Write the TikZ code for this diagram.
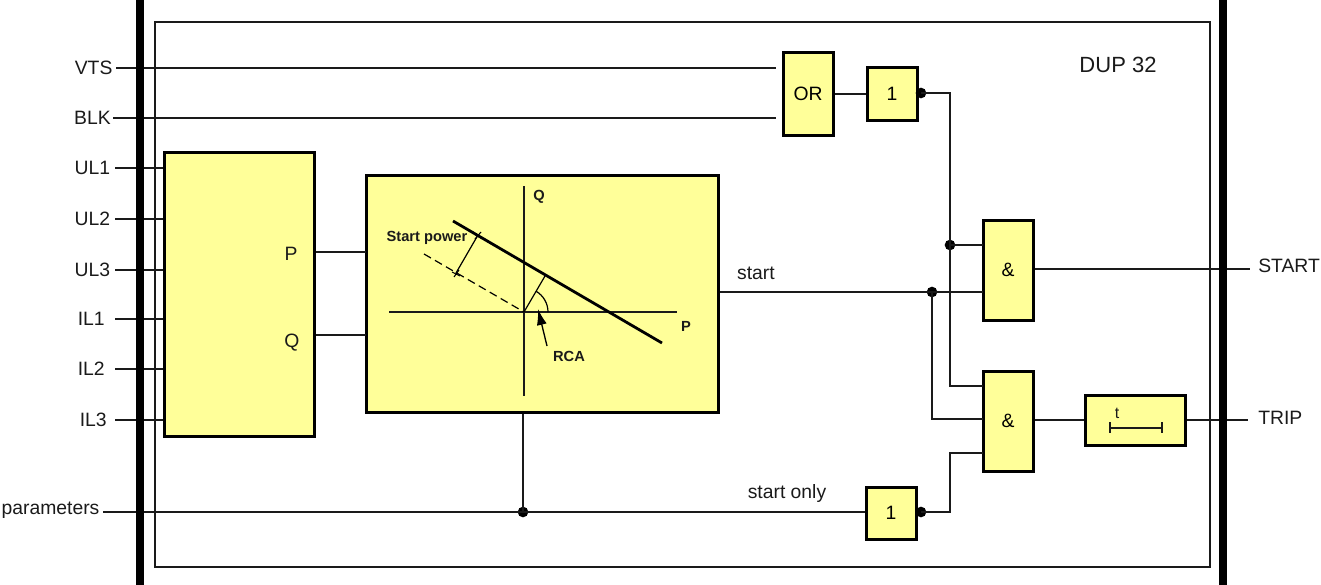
\documentclass[tikz,border=0pt]{standalone}
\usepackage{fontspec}
\setmainfont{Liberation Sans}
\usetikzlibrary{arrows.meta}
\definecolor{gateyellow}{HTML}{FFFF99}
\definecolor{wirecol}{HTML}{1A1A1A}
\tikzset{
    wire/.style={line width=1.5pt, draw=wirecol},
    bar/.style={line width=6pt, draw=black},
    gate/.style={draw=black, fill=gateyellow, line width=2.25pt, inner sep=0pt, font=\fontsize{14.5}{16}\selectfont},
    invgate/.style={gate, minimum width=37.5pt, minimum height=39pt},
    andgate/.style={gate, minimum width=37.5pt, minimum height=75pt},
    sig/.style={inner ysep=0pt, text=wirecol, font=\fontsize{14.5}{16}\selectfont},
    plotlbl/.style={inner sep=0pt, text=wirecol, font=\fontsize{11}{13}\selectfont\bfseries},
    dot/.style={circle, fill=black, inner sep=0pt, minimum size=8pt},
}
\begin{document}
\begin{tikzpicture}[x=0.75pt, y=-0.75pt]
    \useasboundingbox (0,0) rectangle (1321,585);

    % frame and end bars
    \draw[wire] (155,22) rectangle (1210,567);
    \coordinate (barLt) at (140,0);
    \coordinate (barLb) at (140,585);
    \coordinate (barRt) at (1223,0);
    \coordinate (barRb) at (1223,585);

    % blocks
    \node[gate, minimum width=112.5pt, minimum height=213pt] (power) at (239,294) {};
    \node[gate, minimum width=264pt, minimum height=177.75pt] (plot) at (542,293.5) {};
    \node[gate, minimum width=37.5pt, minimum height=61.5pt] (orgate) at (808,94) {OR};
    \node[invgate] (invA) at (892,94) {1};
    \node[invgate] (invB) at (891,513) {1};
    \node[andgate] (andA) at (1008,270) {\&};
    \node[andgate] (andB) at (1008,421) {\&};
    \node[gate, minimum width=75pt, minimum height=37.5pt] (timer) at (1135,420) {};

    \node[sig, anchor=base] (lblP) at (291,260) {P};
    \node[sig, anchor=base] (lblQ) at (292,347) {Q};
    \node[sig, anchor=base, font=\fontsize{16.5}{18}\selectfont] (lblDup) at (1118,73) {DUP 32};

    % inputs
    \node[sig, anchor=east, inner xsep=2.5pt] (vts) at (116,68) {VTS};
    \node[sig, anchor=east, inner xsep=1.5pt] (blk) at (113,118) {BLK};
    \node[sig, anchor=east, inner xsep=2.5pt] (params) at (103,510) {parameters};
    \draw[wire, shorten >=4pt] (vts.east) -- (vts.east -| orgate.west);
    \draw[wire, shorten >=4pt] (blk.east) -- (blk.east -| orgate.west);
    \foreach \name/\yy/\gap in {UL1/168/3.5, UL2/219/3.5, UL3/270/3.5, IL1/319/7.5, IL2/369/7.5, IL3/420/6} {
        \node[sig, anchor=east, inner xsep=\gap pt] (\name) at (115,\yy) {\name};
        \draw[wire] (\name.east) -- (\name.east -| power.west);
    }

    % outputs
    \node[sig, anchor=west, inner xsep=0pt] (lblStart) at (1258,266) {START};
    \node[sig, anchor=west, inner xsep=0pt] (lblTrip) at (1258,418) {TRIP};
    \coordinate (endStart) at (1250,269);
    \coordinate (endTrip) at (1248,420);
    \draw[wire] (andA.east |- endStart) -- (endStart);
    \draw[wire] (andB.east |- timer.west) -- (timer.west);
    \draw[wire] (timer.east) -- (endTrip);

    % wiring
    \coordinate (inP) at (366,252);
    \coordinate (inQ) at (366,335);
    \draw[wire] (power.east |- inP) -- (inP);
    \draw[wire] (power.east |- inQ) -- (inQ);
    \draw[wire] (orgate.east) -- (invA.west);

    \node[dot] (dotA) at (921,93) {};
    \node[dot] (dotB) at (950,245) {};
    \node[dot] (dotC) at (932,292) {};
    \node[dot] (dotD) at (921,512) {};
    \node[dot] (dotE) at (523,512) {};
    \coordinate (inA1) at (983,245);
    \coordinate (inA2) at (983,292);
    \coordinate (inB1) at (983,386);
    \coordinate (inB2) at (983,419);
    \coordinate (inB3) at (983,453);
    \draw[wire] (dotA.center) -| (dotB.center) |- (inB1);
    \draw[wire] (dotB.center) -- (inA1);
    \draw[wire] (plot.east |- dotC) -- (inA2);
    \draw[wire] (dotC.center) |- (inB2);
    \draw[wire] (dotD.center) -| (950,453) -- (inB3);
    \draw[wire] (params.east |- dotD) -- (dotD -| invB.west);
    \draw[wire] (dotE.center) -- (dotE.center |- plot.south);

    \node[sig, anchor=base] (lblStartIn) at (756,279) {start};
    \node[sig, anchor=base] (lblOnly) at (787,498) {start only};

    % end bars over the wires
    \draw[bar] (barLt) -- (barLb);
    \draw[bar] (barRt) -- (barRb);

    % timer symbol
    \draw[wire] (1110,427.5) -- (1162,427.5);
    \draw[wire] (1110,422) -- (1110,433);
    \draw[wire] (1162,422) -- (1162,433);
    \node[plotlbl, font=\fontsize{12}{14}\selectfont] (lblT) at (1117,413) {t};

    % characteristic inside the plot block
    \draw[line width=1.1pt, draw=wirecol] (524,186) -- (524,396);
    \draw[line width=1.1pt, draw=wirecol] (389,312) -- (677,312);
    \draw[line width=2.1pt] (453,221) -- (662,343);
    \draw[line width=0.9pt, dash pattern=on 6pt off 3.5pt] (424,254) -- (524,312);
    \draw[line width=0.9pt] (478,235) -- (456,273);
    \draw[line width=0.9pt] (524,312) -- (545,276);
    \draw[line width=0.8pt] (473,232) -- (481,238) (475,239) -- (481,232);
    \draw[line width=0.8pt] (452,272) -- (460,276) (454,277) -- (459,270);
    \draw[line width=0.9pt] (548,312) arc (0:-60:24);
    \draw[line width=1pt, -{Latex[length=12pt,width=7.5pt]}] (547,346) -- (538,309);
    \node[plotlbl] (lblQaxis) at (539,197) {Q};
    \node[plotlbl] (lblPaxis) at (686,326) {P};
    \node[plotlbl] (lblRca) at (569,356) {RCA};
    \node[plotlbl] (lblPower) at (427,238) {Start power};
\end{tikzpicture}
\end{document}
